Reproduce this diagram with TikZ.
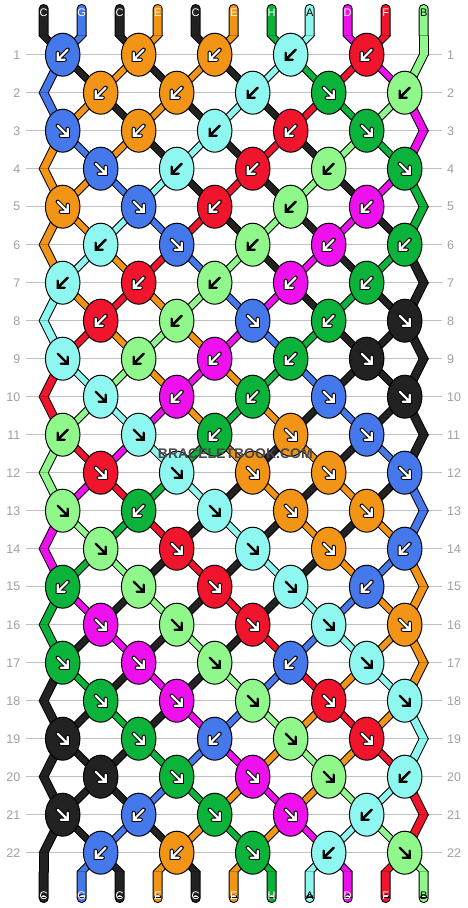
\documentclass[tikz,border=0pt]{standalone}
\usepackage{fontspec}
\setmainfont{Liberation Sans}
\usetikzlibrary{shapes.geometric}
\definecolor{cA}{RGB}{142,247,240}
\definecolor{cB}{RGB}{144,247,138}
\definecolor{cC}{RGB}{34,34,34}
\definecolor{cD}{RGB}{238,17,238}
\definecolor{cE}{RGB}{242,148,22}
\definecolor{cF}{RGB}{240,21,45}
\definecolor{cG}{RGB}{69,120,234}
\definecolor{cH}{RGB}{11,179,58}
\definecolor{rowgray}{RGB}{160,160,160}
\definecolor{linegray}{RGB}{192,192,192}
\definecolor{wmgray}{RGB}{72,72,72}
\tikzset{
  rowline/.style={draw=linegray, line width=1},
  rowlabel/.style={text=rowgray, font=\fontsize{12.5}{14}\selectfont, inner sep=0},
  knot/.style={ellipse, draw=black, line width=1, minimum width=34.5, minimum height=43, inner sep=0},
  whitearrow/.style={draw=white, line width=2.2, line cap=round, line join=miter,
    preaction={draw=black, line width=4.2, line cap=round, line join=miter}},
  blackarrow/.style={draw=black, line width=2.4, line cap=round, line join=miter},
  arr-A/.style={blackarrow}, arr-B/.style={blackarrow},
  arr-C/.style={whitearrow}, arr-D/.style={whitearrow}, arr-E/.style={whitearrow},
  arr-F/.style={whitearrow}, arr-G/.style={whitearrow}, arr-H/.style={whitearrow},
  strlab/.style={font=\fontsize{11}{12}\selectfont, inner sep=0},
  lab-A/.style={strlab,text=black}, lab-B/.style={strlab,text=black},
  lab-C/.style={strlab,text=white}, lab-D/.style={strlab,text=white},
  lab-E/.style={strlab,text=white}, lab-F/.style={strlab,text=white},
  lab-G/.style={strlab,text=white}, lab-H/.style={strlab,text=white},
  bandline/.style={draw=black, fill=black, line width=2, line join=round},
  wm/.style={font=\bfseries\fontsize{14}{16}\selectfont, inner sep=0},
}
\def\states{{C,G,C,E,C,E,H,A,D,F,B},{G,C,E,C,E,C,A,H,F,D,B},{G,E,C,E,C,A,C,F,H,B,D},{E,G,E,C,A,C,F,C,B,H,D},{E,E,G,A,C,F,C,B,C,D,H},{E,E,A,G,F,C,B,C,D,C,H},{E,A,E,F,G,B,C,D,C,H,C},{A,E,F,E,B,G,D,C,H,C,C},{A,F,E,B,E,D,G,H,C,C,C},{F,A,B,E,D,E,H,G,C,C,C},{F,B,A,D,E,H,E,C,G,C,C},{B,F,D,A,H,E,C,E,C,G,C},{B,D,F,H,A,C,E,C,E,C,G},{D,B,H,F,C,A,C,E,C,E,G},{D,H,B,C,F,C,A,C,E,G,E},{H,D,C,B,C,F,C,A,G,E,E},{H,C,D,C,B,C,F,G,A,E,E},{C,H,C,D,C,B,G,F,E,A,E},{C,C,H,C,D,G,B,E,F,E,A},{C,C,C,H,G,D,E,B,E,F,A},{C,C,C,G,H,E,D,E,B,A,F},{C,C,G,C,E,H,E,D,A,B,F},{C,G,C,E,C,E,H,A,D,F,B}}
\def\knots{{G/b,E/b,E/b,A/b,F/b},{E/b,E/b,A/b,H/f,B/b},{G/f,E/b,A/b,F/b,H/f},{G/f,A/b,F/b,B/b,H/f},{E/f,G/f,F/b,B/b,D/b},{A/b,G/f,B/b,D/b,H/b},{A/b,F/b,B/b,D/b,H/b},{F/b,B/b,G/f,H/b,C/f},{A/f,B/b,D/b,H/b,C/f},{A/f,D/b,H/b,G/f,C/f},{B/b,A/f,H/b,E/f,G/f},{F/f,A/f,E/f,E/f,G/f},{B/f,H/b,A/f,E/f,E/f},{B/f,F/f,A/f,E/f,G/b},{H/b,B/f,F/f,A/f,G/b},{D/f,B/f,F/f,A/f,E/f},{H/f,D/f,B/f,G/b,A/f},{H/f,D/f,B/f,F/f,A/f},{C/f,H/f,G/b,B/f,F/f},{C/f,H/f,D/f,B/f,A/b},{C/f,G/b,H/f,D/f,A/b},{G/b,E/b,H/f,A/b,B/f}}
\begin{document}
\begin{tikzpicture}[x=1pt,y=-1pt]
\useasboundingbox (0,0) rectangle (468,908);
\fill[white] (0,0) rectangle (468,908);
% row guide lines and numbers
\foreach \r in {1,...,22}{
  \pgfmathsetmacro\yy{54.7+38*(\r-1)}
  \draw[rowline] (26,\yy) -- (442,\yy);
  \node[rowlabel,anchor=east] (ll\r) at (20.5,\yy) {\r};
  \node[rowlabel,anchor=west] (rl\r) at (447,\yy) {\r};
}
% strings: pass 1 outlines, pass 2 colour
\foreach \pass in {1,2}{
  \foreach \c [count=\p] in {C,G,C,E,C,E,H,A,D,F,B}{
    \pgfmathsetmacro\xp{43.7+38*(\p-1)}
    \ifnum\pass=1
      \filldraw[bandline] ({\xp-4},35.7) rectangle ({\xp+4},9) ({\xp},9) circle[radius=4];
      \filldraw[bandline] ({\xp-4},871.7) rectangle ({\xp+4},898) ({\xp},898) circle[radius=4];
    \else
      \fill[c\c] ({\xp-4},35.7) rectangle ({\xp+4},9) ({\xp},9) circle[radius=4];
      \fill[c\c] ({\xp-4},871.7) rectangle ({\xp+4},898) ({\xp},898) circle[radius=4];
    \fi
  }
  \foreach \st [count=\rr from 0] in \states {
    \foreach \c [count=\p] in \st {
      \pgfmathtruncatemacro\rn{\rr+1}
      \pgfmathsetmacro\xp{43.7+38*(\p-1)}
      \pgfmathsetmacro\da{(\rr==0) ? 0 : (((((mod(\rr,2)==1) && (\p==11)) || ((mod(\rr,2)==0) && (\p==1)))) ? 0 : ((mod(\p+\rr,2)==0) ? 19 : -19))}
      \pgfmathsetmacro\db{(\rn==23) ? 0 : (((((mod(\rn,2)==1) && (\p==11)) || ((mod(\rn,2)==0) && (\p==1)))) ? 0 : ((mod(\p+\rn,2)==0) ? 19 : -19))}
      \pgfmathsetmacro\ya{(\rr==0) ? 35.7 : (54.7+38*(\rr-1))}
      \pgfmathsetmacro\yb{(\rn==23) ? 871.7 : (54.7+38*(\rn-1))}
      \pgfmathsetmacro\xa{\xp+\da}
      \pgfmathsetmacro\xb{\xp+\db}
      \ifnum\pass=1
        \filldraw[bandline] ({\xa-4},\ya) -- ({\xb-4},\yb) -- ({\xb+4},\yb) -- ({\xa+4},\ya) -- cycle;
      \else
        \fill[c\c] ({\xa-4},\ya) -- ({\xb-4},\yb) -- ({\xb+4},\yb) -- ({\xa+4},\ya) -- cycle;
      \fi
    }
  }
}
% knots with arrows
\foreach \kr [count=\r] in \knots {
  \foreach \c/\d [count=\i] in \kr {
    \pgfmathsetmacro\kx{(mod(\r,2)==1 ? 62.7 : 100.7)+76*(\i-1)}
    \pgfmathsetmacro\ky{54.7+38*(\r-1)}
    \node[knot,fill=c\c] (k\r-\i) at (\kx,\ky) {};
    \if\d f\def\sg{1}\else\def\sg{-1}\fi
    \pgfmathsetmacro\tx{\kx+5*\sg}
    \pgfmathsetmacro\ty{\ky+5}
    \draw[arr-\c] ({\tx},{\ty-7}) -- ({\tx},{\ty}) -- ({\tx-7*\sg},{\ty}) ({\tx},{\ty}) -- ({\kx-5*\sg},{\ky-5});
  }
}
% string letters
\foreach \c [count=\p] in {C,G,C,E,C,E,H,A,D,F,B}{
  \pgfmathsetmacro\xp{43.7+38*(\p-1)}
  \node[lab-\c] (t\p) at (\xp,12.7) {\c};
  \node[lab-\c] (b\p) at (\xp,896) {\c};
}
% watermark
\node[wm,text=wmgray] (wm) at (235.3,454) {BRACELETBOOK.COM};
\end{tikzpicture}
\end{document}
